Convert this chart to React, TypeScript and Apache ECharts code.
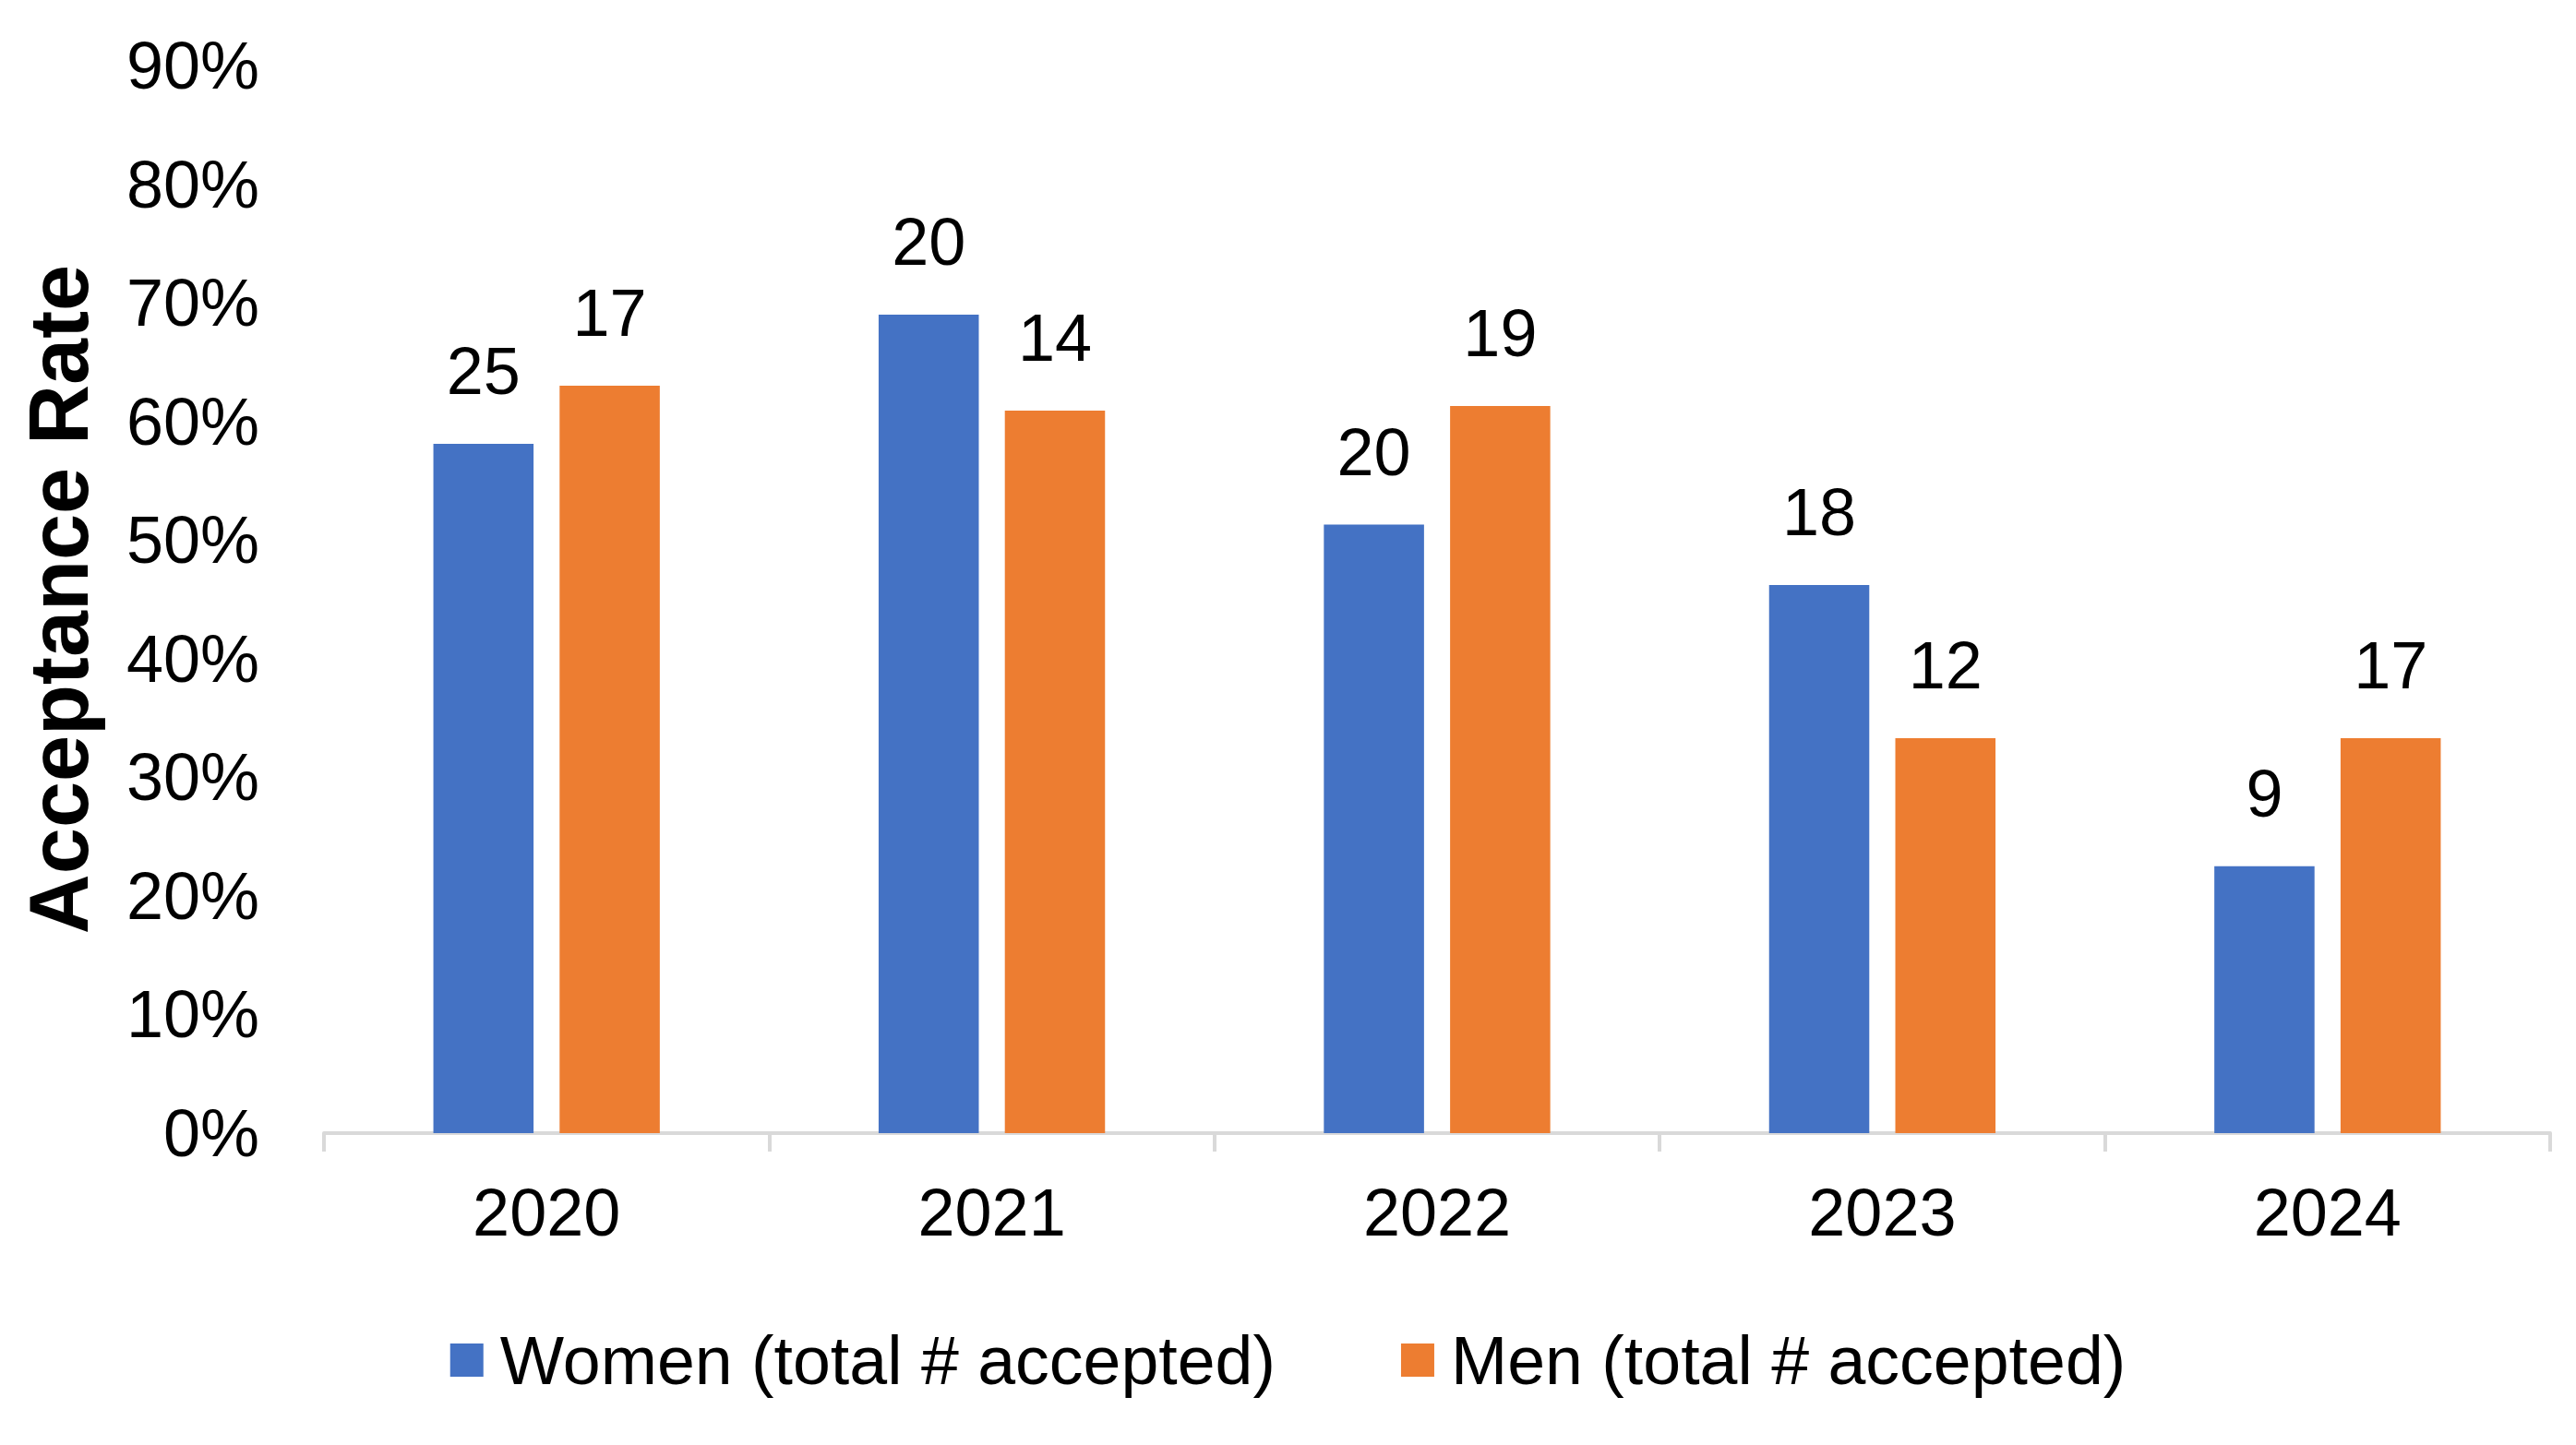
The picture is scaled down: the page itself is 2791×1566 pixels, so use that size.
import React, { useEffect, useRef } from "react";
import * as echarts from "echarts";

const categories = ["2020", "2021", "2022", "2023", "2024"];
const womenRate = [58.1, 69.0, 51.3, 46.2, 22.5];
const menRate = [63.0, 60.9, 61.3, 33.3, 33.3];
const womenCount = [25, 20, 20, 18, 9];
const menCount = [17, 14, 19, 12, 17];
const seriesNames = ["Women (total # accepted)", "Men (total # accepted)"];
const yAxisTitle = "Acceptance Rate";

const FONT = "'Liberation Sans', Arial, sans-serif";

export default function App() {
  const ref = useRef<HTMLDivElement>(null);
  useEffect(() => {
    document.body.style.margin = "0";
    const chart = echarts.init(ref.current!, null, { renderer: "svg" });
    const labelStyle = (counts: number[]) => ({
      show: true,
      position: "top",
      distance: 43,
      color: "#000",
      fontSize: 72,
      fontFamily: FONT,
      formatter: (p: any) => String(counts[p.dataIndex]),
    });
    chart.setOption({
      animation: false,
      backgroundColor: "#fff",
      textStyle: { fontFamily: FONT },
      grid: { left: 351, right: 28, top: 71, bottom: 338, containLabel: false },
      legend: {
        show: true,
        left: "center",
        top: 1432,
        itemWidth: 36,
        itemHeight: 36,
        itemGap: 136,
        icon: "rect",
        textStyle: { fontSize: 73.5, color: "#000", fontFamily: FONT, padding: [0, 0, 0, 13] },
        data: seriesNames,
      },
      xAxis: {
        type: "category",
        data: categories,
        axisLine: { show: true, lineStyle: { color: "#D9D9D9", width: 4 } },
        axisTick: { show: true, length: 20, lineStyle: { color: "#D9D9D9", width: 4 } },
        axisLabel: { fontSize: 72, color: "#000", fontFamily: FONT, margin: 50 },
      },
      yAxis: {
        type: "value",
        min: 0,
        max: 90,
        interval: 10,
        name: yAxisTitle,
        nameLocation: "middle",
        nameRotate: 90,
        nameGap: 242,
        nameTextStyle: { fontSize: 90, fontWeight: "bold", color: "#000", fontFamily: FONT },
        axisLine: { show: false },
        axisTick: { show: false },
        splitLine: { show: false },
        axisLabel: { fontSize: 72, color: "#000", fontFamily: FONT, margin: 70, formatter: "{value}%" },
      },
      series: [
        {
          name: seriesNames[0],
          type: "bar",
          data: womenRate,
          barWidth: "22.5%",
          barGap: "26%",
          itemStyle: { color: "#4472C4" },
          label: labelStyle(womenCount),
        },
        {
          name: seriesNames[1],
          type: "bar",
          data: menRate,
          barWidth: "22.5%",
          barGap: "26%",
          itemStyle: { color: "#ED7D31" },
          label: labelStyle(menCount),
        },
      ],
    });
    return () => chart.dispose();
  }, []);
  return <div ref={ref} style={{ width: 2791, height: 1566 }} />;
}
